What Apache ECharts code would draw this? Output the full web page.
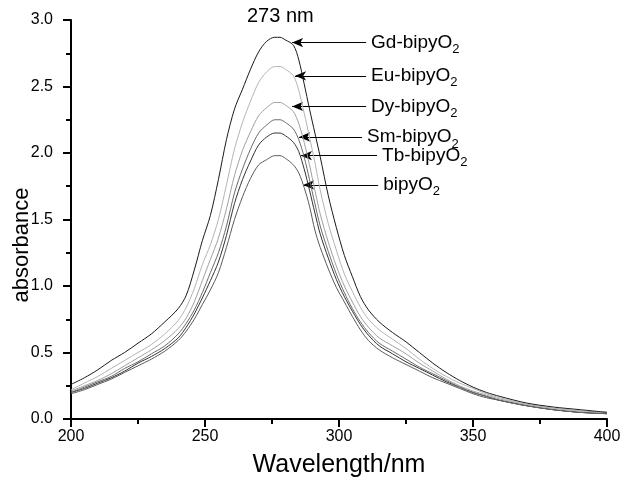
<!DOCTYPE html>
<html>
<head>
<meta charset="utf-8">
<script src="https://cdn.jsdelivr.net/npm/echarts@6/dist/echarts.min.js"></script>
<style>
  html, body { margin: 0; padding: 0; background: #fff; }
  #chart { width: 621px; height: 481px; }
</style>
</head>
<body>
<div id="chart"></div>
<script>
// wavelength grid (nm)
const wavelength = [200, 205, 210, 215, 220, 225, 230, 235, 240, 243, 246, 249, 252, 255, 258, 261, 264, 267, 270, 273, 276, 278, 280, 283, 285, 287, 289, 291, 293, 296, 299, 302, 305, 308, 311, 315, 320, 325, 330, 335, 340, 345, 350, 355, 360, 370, 380, 390, 400];

// absorbance
const gd = [0.26, 0.31, 0.37, 0.44, 0.50, 0.57, 0.64, 0.73, 0.83, 0.93, 1.12, 1.34, 1.53, 1.80, 2.10, 2.33, 2.48, 2.63, 2.76, 2.84, 2.87, 2.87, 2.85, 2.81, 2.70, 2.52, 2.33, 2.15, 1.97, 1.68, 1.44, 1.23, 1.07, 0.92, 0.82, 0.73, 0.65, 0.58, 0.50, 0.42, 0.35, 0.29, 0.24, 0.20, 0.17, 0.12, 0.09, 0.07, 0.05];
const eu = [0.22, 0.27, 0.32, 0.38, 0.44, 0.50, 0.56, 0.64, 0.74, 0.84, 0.98, 1.16, 1.31, 1.50, 1.76, 2.03, 2.23, 2.39, 2.53, 2.61, 2.65, 2.65, 2.63, 2.58, 2.47, 2.30, 2.12, 1.93, 1.72, 1.47, 1.27, 1.09, 0.96, 0.84, 0.75, 0.67, 0.60, 0.53, 0.45, 0.38, 0.32, 0.27, 0.23, 0.19, 0.16, 0.11, 0.08, 0.06, 0.05];
const dy = [0.21, 0.25, 0.29, 0.34, 0.40, 0.46, 0.52, 0.59, 0.68, 0.76, 0.88, 1.04, 1.20, 1.36, 1.58, 1.83, 2.02, 2.16, 2.28, 2.34, 2.38, 2.38, 2.36, 2.31, 2.22, 2.08, 1.91, 1.72, 1.54, 1.33, 1.15, 1.00, 0.88, 0.77, 0.69, 0.61, 0.55, 0.49, 0.42, 0.36, 0.30, 0.25, 0.21, 0.18, 0.15, 0.11, 0.08, 0.06, 0.05];
const sm = [0.20, 0.24, 0.28, 0.32, 0.38, 0.43, 0.49, 0.55, 0.64, 0.72, 0.82, 0.95, 1.10, 1.25, 1.45, 1.70, 1.88, 2.03, 2.15, 2.21, 2.25, 2.25, 2.23, 2.18, 2.10, 1.97, 1.80, 1.62, 1.45, 1.26, 1.09, 0.95, 0.83, 0.73, 0.65, 0.57, 0.51, 0.45, 0.39, 0.34, 0.29, 0.24, 0.20, 0.17, 0.14, 0.10, 0.07, 0.05, 0.04];
const tb = [0.20, 0.23, 0.27, 0.31, 0.36, 0.42, 0.47, 0.53, 0.61, 0.69, 0.79, 0.91, 1.04, 1.18, 1.38, 1.62, 1.80, 1.94, 2.06, 2.12, 2.15, 2.15, 2.13, 2.08, 2.01, 1.88, 1.72, 1.55, 1.39, 1.21, 1.05, 0.92, 0.81, 0.71, 0.63, 0.55, 0.49, 0.43, 0.38, 0.33, 0.28, 0.24, 0.20, 0.17, 0.14, 0.10, 0.07, 0.05, 0.04];
const bipy = [0.19, 0.22, 0.26, 0.30, 0.35, 0.40, 0.45, 0.51, 0.59, 0.66, 0.75, 0.86, 0.97, 1.10, 1.29, 1.50, 1.67, 1.81, 1.91, 1.95, 1.98, 1.98, 1.96, 1.91, 1.85, 1.74, 1.60, 1.42, 1.29, 1.13, 0.99, 0.88, 0.77, 0.67, 0.59, 0.52, 0.46, 0.41, 0.36, 0.31, 0.27, 0.23, 0.19, 0.16, 0.14, 0.10, 0.07, 0.05, 0.04];

const names = ['Gd-bipyO', 'Eu-bipyO', 'Dy-bipyO', 'Sm-bipyO', 'Tb-bipyO', 'bipyO'];
const values = [gd, eu, dy, sm, tb, bipy];
const colors = ['#1a1a1a', '#b4b4b4', '#a0a0a0', '#6a6a6a', '#333333', '#5a5a5a'];

// arrow: [head wavelength, head absorbance, tail wavelength]
const arrows = [
  [282.5, 2.83, 310.1],
  [283.6, 2.58, 310.1],
  [282.5, 2.35, 310.1],
  [285.1, 2.12, 308.6],
  [285.8, 1.98, 314.2],
  [286.6, 1.76, 314.6]
];

const font = '"Liberation Sans", Arial, sans-serif';

const series = names.map((name, i) => ({
  name: name,
  type: 'line',
  data: wavelength.map((w, j) => [w, values[i][j]]),
  showSymbol: false,
  smooth: 0.3,
  lineStyle: { color: colors[i], width: 1 },
  z: 10 - i,
  markLine: {
    silent: true,
    symbol: ['arrow', 'none'],
    symbolSize: [7, 11],
    lineStyle: { color: '#000', width: 1, type: 'solid' },
    label: {
      show: true,
      position: 'end',
      distance: 5,
      color: '#000',
      fontFamily: font,
      fontSize: 19,
      formatter: () => name + '{sub|2}',
      rich: {
        sub: { fontSize: 13, fontFamily: font, color: '#000', padding: [14, 0, 0, 0] }
      }
    },
    data: [[
      { coord: [arrows[i][0], arrows[i][1]] },
      { coord: [arrows[i][2], arrows[i][1]] }
    ]]
  }
}));

const chart = echarts.init(document.getElementById('chart'));
chart.setOption({
  animation: false,
  backgroundColor: '#fff',
  grid: { left: 71, right: 14, top: 20, bottom: 62, containLabel: false, outerBoundsMode: 'none' },
  xAxis: {
    type: 'value',
    min: 200,
    max: 400,
    interval: 50,
    axisLine: { onZero: false, lineStyle: { color: '#000', width: 2 } },
    axisTick: { length: 8, lineStyle: { color: '#000', width: 2 } },
    minorTick: { show: true, splitNumber: 2, length: 5, lineStyle: { color: '#000', width: 2 } },
    splitLine: { show: false },
    axisLabel: { color: '#000', fontSize: 16, fontFamily: font, margin: 10 },
    name: 'Wavelength/nm',
    nameLocation: 'middle',
    nameGap: 34,
    nameTextStyle: { color: '#000', fontSize: 25, fontFamily: font }
  },
  yAxis: {
    type: 'value',
    min: 0,
    max: 3,
    interval: 0.5,
    axisLine: { show: true, onZero: false, lineStyle: { color: '#000', width: 2 } },
    axisTick: { show: true, length: 8, lineStyle: { color: '#000', width: 2 } },
    minorTick: { show: true, splitNumber: 2, length: 5, lineStyle: { color: '#000', width: 2 } },
    splitLine: { show: false },
    axisLabel: { color: '#000', fontSize: 16, fontFamily: font, margin: 18, formatter: v => v.toFixed(1) }
  },
  graphic: [{
    type: 'text',
    left: 247,
    top: 6,
    style: { text: '273 nm', fontSize: 20, fontFamily: font, fill: '#000' }
  }, {
    type: 'text',
    x: 22,
    y: 245,
    rotation: Math.PI / 2,
    style: { text: 'absorbance', fontSize: 22, fontFamily: font, fill: '#000', align: 'center', verticalAlign: 'middle' }
  }],
  series: series
});
</script>
</body>
</html>
